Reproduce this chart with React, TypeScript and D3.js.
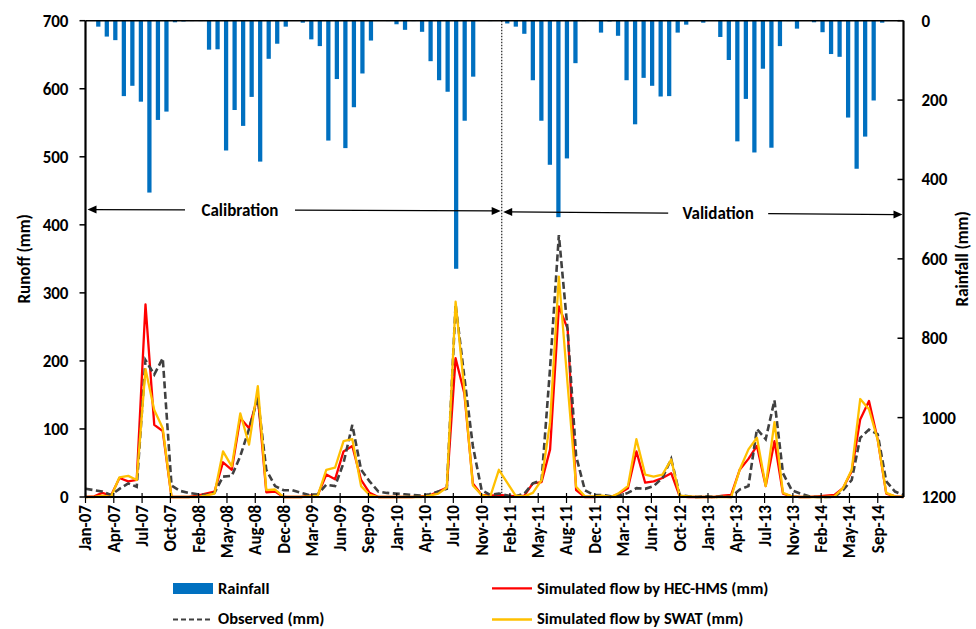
import React from "react";
import * as d3 from "d3";

// ---------- data (monthly, Jan-2007 .. Dec-2014) ----------
const rainfall = [
  0, 15, 40, 49, 190, 164, 204, 433, 250, 229, 4, 2,
  1, 1, 73, 72, 327, 225, 265, 192, 355, 96, 58, 15,
  0, 5, 47, 64, 302, 147, 321, 218, 133, 50, 0, 1,
  9, 23, 1, 28, 102, 150, 179, 625, 252, 141, 0, 1,
  0, 7, 15, 33, 150, 252, 363, 495, 347, 107, 1, 0,
  30, 2, 38, 150, 261, 144, 164, 191, 190, 30, 10, 0,
  5, 0, 41, 99, 304, 197, 332, 121, 320, 64, 1, 20,
  0, 4, 29, 84, 91, 244, 373, 292, 201, 5, 0, 0,
];
const observed = [
  12, 10, 8, 3, 12, 20, 15, 201, 180, 204, 17, 9,
  6, 4, 3, 6, 30, 31, 60, 100, 145, 40, 16, 10,
  10, 6, 3, 4, 18, 16, 50, 106, 40, 23, 8, 6,
  5, 4, 3, 2, 4, 8, 12, 283, 176, 75, 10, 3,
  5, 2, 1, 5, 20, 25, 190, 385, 245, 60, 10, 3,
  3, 1, 2, 6, 13, 12, 16, 28, 56, 3, 1, 0,
  1, 0, 1, 0, 11, 16, 100, 85, 142, 35, 10, 5,
  1, 0, 0, 0, 10, 25, 87, 99, 92, 23, 8, 3,
];
const hecHms = [
  0, 1, 6, 2, 28, 23, 25, 283, 106, 97, 0, 0,
  0, 2, 5, 8, 51, 40, 116, 101, 148, 7, 8, 0,
  0, 0, 2, 3, 33, 26, 67, 75, 25, 6, 0, 0,
  0, 0, 0, 1, 2, 8, 14, 204, 152, 20, 3, 2,
  3, 2, 1, 2, 20, 22, 70, 280, 247, 10, 0, 0,
  1, 0, 5, 13, 67, 21, 23, 28, 35, 1, 0, 0,
  0, 0, 2, 3, 40, 56, 75, 16, 82, 5, 1, 0,
  0, 1, 2, 3, 13, 38, 114, 141, 84, 5, 1, 0,
];
const swat = [
  0, 0, 2, 0, 29, 31, 25, 188, 128, 101, 0, 0,
  0, 0, 2, 5, 67, 45, 123, 77, 163, 10, 11, 0,
  0, 0, 1, 2, 40, 43, 82, 85, 16, 3, 0, 0,
  0, 0, 0, 0, 2, 5, 14, 287, 157, 17, 3, 0,
  40, 20, 2, 1, 6, 25, 110, 324, 165, 15, 1, 1,
  2, 0, 6, 16, 85, 33, 30, 33, 55, 2, 1, 0,
  0, 0, 0, 0, 40, 70, 87, 16, 110, 6, 1, 0,
  0, 0, 0, 1, 13, 40, 144, 129, 84, 6, 1, 0,
];
const leftTicks = [0, 100, 200, 300, 400, 500, 600, 700];
const rightTicks = [0, 200, 400, 600, 800, 1000, 1200];
const tickStepDays = 100;
const tickCount = 29;
const periodLabels = ["Calibration", "Validation"];
const legendLabels = [
  "Rainfall",
  "Simulated flow by HEC-HMS  (mm)",
  "Observed (mm)",
  "Simulated flow by SWAT (mm)",
];

// ---------- layout ----------
const W = 976;
const H = 629;
const X0 = 85.5;
const X1 = 903.5;
const YTOP = 20.7;
const YBOT = 497;
const FONT = "Carlito, Calibri, Lato, sans-serif";
const BLUE = "#0070C0";
const RED = "#FF0000";
const GOLD = "#FFC000";
const DARK = "#404040";

const startMs = Date.UTC(2007, 0, 1);
const months = d3.range(rainfall.length).map((i) => new Date(Date.UTC(2007, i, 1)));

const xTime = d3
  .scaleUtc()
  .domain([months[0], months[months.length - 1]])
  .range([X0, X1]);
const xBand = d3
  .scaleBand<number>()
  .domain(d3.range(rainfall.length))
  .range([X0, X1])
  .paddingInner(0.5)
  .paddingOuter(0.25);
const yL = d3.scaleLinear().domain([0, 700]).range([YBOT, YTOP]);
const yR = d3.scaleLinear().domain([0, 1200]).range([YTOP, YBOT]);

const tickDates = d3.range(tickCount).map((k) => new Date(startMs + k * tickStepDays * 864e5));
const fmt = d3.utcFormat("%b-%y");

const lineGen = d3
  .line<number>()
  .x((_, i) => xTime(months[i]))
  .y((v) => yL(v));

const splitX = xTime(new Date(Date.UTC(2011, 0, 11)));

function Arrow({ x, y, dir }: { x: number; y: number; dir: number }) {
  const L = 9;
  const h = 4;
  return (
    <path
      d={`M${x},${y} L${x - dir * L},${y - h} L${x - dir * L},${y + h} Z`}
      fill="#000"
    />
  );
}

export default function App() {
  const calCenter = xTime(new Date(Date.UTC(2008, 5, 30)));
  const valCenter = xTime(new Date(Date.UTC(2013, 1, 14)));
  const calY0 = yL(422.5), calY1 = yL(420.5);
  const valY0 = yL(419), valY1 = yL(415);
  const calGap = 55;
  const valGap = 50;
  const calMid = (x: number) => calY0 + ((x - X0) / (splitX - X0)) * (calY1 - calY0);
  const valMid = (x: number) => valY0 + ((x - splitX) / (X1 - splitX)) * (valY1 - valY0);

  return (
    <svg
      width={W}
      height={H}
      style={{ position: "absolute", left: 0, top: 0, background: "#fff" }}
      fontFamily={FONT}
      fontWeight="bold"
    >
      <rect width={W} height={H} fill="#fff" />
      {/* rainfall bars hanging from top */}
      {rainfall.map((v, i) => (
        <rect
          key={i}
          x={xBand(i)}
          y={yR(0)}
          width={xBand.bandwidth()}
          height={Math.max(0, yR(v) - yR(0))}
          fill={BLUE}
        />
      ))}
      {/* split line */}
      <line x1={splitX} x2={splitX} y1={YTOP} y2={YBOT} stroke="#333" strokeWidth={1.3} strokeDasharray="1.5,1.5" />
      {/* lines */}
      <path d={lineGen(hecHms) || ""} fill="none" stroke={RED} strokeWidth={2.3} strokeLinejoin="round" />
      <path d={lineGen(observed) || ""} fill="none" stroke={DARK} strokeWidth={2.6} strokeDasharray="7,3.5" />
      <path d={lineGen(swat) || ""} fill="none" stroke={GOLD} strokeWidth={2.3} strokeLinejoin="round" />

      {/* axes */}
      <line x1={X0} x2={X1} y1={YTOP} y2={YTOP} stroke="#000" strokeWidth={1.5} />
      <line x1={X0} x2={X1} y1={YBOT} y2={YBOT} stroke="#000" strokeWidth={2.2} />
      <line x1={X0} x2={X0} y1={YTOP} y2={YBOT} stroke="#000" strokeWidth={2.2} />
      <line x1={X1} x2={X1} y1={YTOP} y2={YBOT} stroke="#000" strokeWidth={2.2} />
      {leftTicks.map((t) => (
        <g key={"l" + t}>
          <line x1={X0 - 6} x2={X0} y1={yL(t)} y2={yL(t)} stroke="#000" strokeWidth={1.5} />
          <text x={X0 - 17} y={yL(t)} dy="0.35em" textAnchor="end" fontSize={17}>
            {t}
          </text>
        </g>
      ))}
      {rightTicks.map((t) => (
        <g key={"r" + t}>
          <line x1={X1 - 6} x2={X1} y1={yR(t)} y2={yR(t)} stroke="#000" strokeWidth={1.5} />
          <text x={X1 + 18} y={yR(t)} dy="0.35em" textAnchor="start" fontSize={17}>
            {t}
          </text>
        </g>
      ))}
      {tickDates.map((d, k) => {
        const x = xTime(d);
        return (
          <g key={"x" + k}>
            <line x1={x} x2={x} y1={YBOT - 4} y2={YBOT + 6} stroke="#000" strokeWidth={1.2} />
            <text
              transform={`translate(${x},${YBOT + 8}) rotate(-90)`}
              dy="0.35em"
              textAnchor="end"
              fontSize={17}
            >
              {fmt(d)}
            </text>
          </g>
        );
      })}
      <text transform={`translate(24,${(YTOP + YBOT) / 2}) rotate(-90)`} textAnchor="middle" dy="0.35em" fontSize={17}>
        Runoff (mm)
      </text>
      <text transform={`translate(962,${(YTOP + YBOT) / 2}) rotate(-90)`} textAnchor="middle" dy="0.35em" fontSize={17}>
        Rainfall (mm)
      </text>

      {/* period annotations */}
      <line x1={X0 + 6} y1={calMid(X0 + 6)} x2={calCenter - calGap} y2={calMid(calCenter - calGap)} stroke="#000" strokeWidth={1.2} />
      <line x1={calCenter + calGap} y1={calMid(calCenter + calGap)} x2={splitX - 8} y2={calMid(splitX - 8)} stroke="#000" strokeWidth={1.2} />
      <Arrow x={X0 + 2} y={calMid(X0 + 2)} dir={-1} />
      <Arrow x={splitX - 1} y={calMid(splitX - 1)} dir={1} />
      <text x={calCenter} y={(calY0 + calY1) / 2} dy="0.35em" textAnchor="middle" fontSize={17}>
        {periodLabels[0]}
      </text>
      <line x1={splitX + 8} y1={valMid(splitX + 8)} x2={valCenter - valGap} y2={valMid(valCenter - valGap)} stroke="#000" strokeWidth={1.2} />
      <line x1={valCenter + valGap} y1={valMid(valCenter + valGap)} x2={X1 - 6} y2={valMid(X1 - 6)} stroke="#000" strokeWidth={1.2} />
      <Arrow x={splitX + 1.5} y={valMid(splitX + 1.5)} dir={-1} />
      <Arrow x={X1 - 1} y={valMid(X1 - 1)} dir={1} />
      <text x={valCenter} y={(valY0 + valY1) / 2} dy="0.35em" textAnchor="middle" fontSize={17}>
        {periodLabels[1]}
      </text>

      {/* legend */}
      <g fontSize={16.5} style={{ whiteSpace: "pre" }}>
        <rect x={173} y={583} width={40} height={11} fill={BLUE} />
        <text x={218} y={588.5} dy="0.35em">{legendLabels[0]}</text>
        <line x1={492} x2={532} y1={588.3} y2={588.3} stroke={RED} strokeWidth={2.3} />
        <text x={537} y={588.5} dy="0.35em">{legendLabels[1]}</text>
        <line x1={173} x2={213} y1={619.5} y2={619.5} stroke={DARK} strokeWidth={2.2} strokeDasharray="5,3" />
        <text x={218} y={618.5} dy="0.35em">{legendLabels[2]}</text>
        <line x1={492} x2={532} y1={619.5} y2={619.5} stroke={GOLD} strokeWidth={2.3} />
        <text x={537} y={618.5} dy="0.35em">{legendLabels[3]}</text>
      </g>
    </svg>
  );
}
